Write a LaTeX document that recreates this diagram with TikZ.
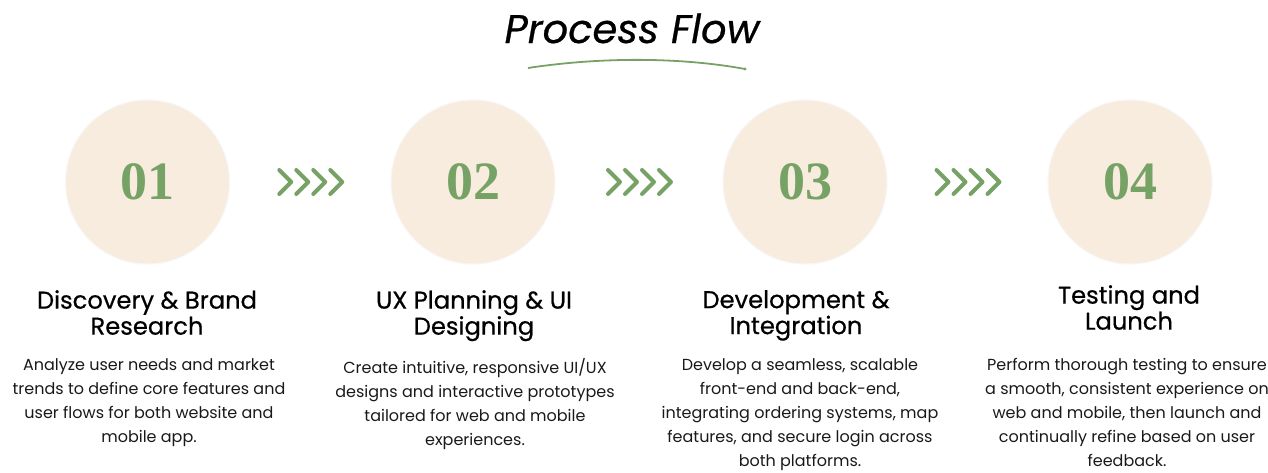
\documentclass[tikz,border=0pt]{standalone}
\usepackage{fontspec}
\setmainfont{Poppins}
\newfontfamily\numfont{Liberation Serif}
\newfontfamily\headfont{Poppins}[FakeBold=0.6]
\usetikzlibrary{calc,shadows}
\definecolor{leaf}{HTML}{76A365}
\definecolor{sand}{HTML}{F8ECDF}

\begin{document}
\begin{tikzpicture}[x=1pt,y=-1pt]
\tikzset{numcircle/.style={circle, fill=sand, minimum size=163pt, inner sep=0pt, text=leaf,
  drop shadow={shadow xshift=0pt, shadow yshift=0pt, shadow scale=1.015, opacity=0.06},
  font=\numfont\bfseries\fontsize{54}{54}\selectfont}}
\tikzset{heading/.style={anchor=north, align=center, inner sep=0pt, font=\headfont\fontsize{24.2}{26}\selectfont}}
\tikzset{body/.style={anchor=north, align=center, inner sep=0pt, text=black!90, font=\fontsize{16}{24}\selectfont}}
\tikzset{chevrons/.pic={
  \draw[leaf, line width=4pt, line cap=round, line join=round] (-31,-12) -- (-19,0) -- (-31,12);
  \draw[leaf, line width=4pt, line cap=round, line join=round] (-14,-12) -- (-2,0) -- (-14,12);
  \draw[leaf, line width=4pt, line cap=round, line join=round] (3,-12) -- (15,0) -- (3,12);
  \draw[leaf, line width=4pt, line cap=round, line join=round] (20,-12) -- (32,0) -- (20,12);
}}

\useasboundingbox (0,0) rectangle (1268,472);

\node (title) at (632,43) [anchor=base, font=\headfont\itshape\fontsize{40}{40}\selectfont] {Process Flow};
\coordinate (arcL) at (528,68);
\coordinate (arcR) at (745,69);
\draw [leaf, line width=1.8pt] (arcL) .. controls (600,57) and (680,57) .. (arcR);
\fill [leaf] (arcR) circle (1.6);

\node (c1) at (147.5,182) [numcircle] {01};
\node (c2) at (473,182) [numcircle] {02};
\node (c3) at (805,182) [numcircle] {03};
\node (c4) at (1130,182) [numcircle] {04};

\path ($(c1)!0.5!(c2)$) pic {chevrons};
\path ($(c2)!0.5!(c3)$) pic {chevrons};
\path ($(c3)!0.5!(c4)$) pic {chevrons};

\node (h1) at (147,290) [heading] {Discovery \& Brand\\Research};
\node (h2) at (474,290) [heading] {UX Planning \& UI\\Designing};
\node (h3) at (796,290) [heading] {Development \&\\Integration};
\node (h4) at (1129,285) [heading] {Testing and\\Launch};

\node (b1) at (149,358) [body] {Analyze user needs and market\\trends to define core features and\\user flows for both website and\\mobile app.};
\node (b2) at (475,358) [body] {Create intuitive, responsive UI/UX\\designs and interactive prototypes\\tailored for web and mobile\\experiences.};
\node (b3) at (800,358) [body] {Develop a seamless, scalable\\front-end and back-end,\\integrating ordering systems, map\\features, and secure login across\\both platforms.};
\node (b4) at (1127,358) [body] {Perform thorough testing to ensure\\a smooth, consistent experience on\\web and mobile, then launch and\\continually refine based on user\\feedback.};
\end{tikzpicture}
\end{document}
